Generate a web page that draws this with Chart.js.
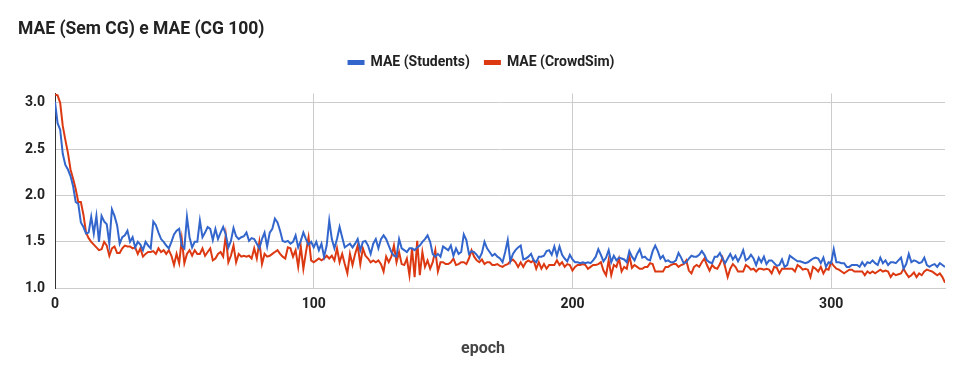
<!DOCTYPE html>
<html>
<head>
<meta charset="utf-8">
<script src="https://cdn.jsdelivr.net/npm/chart.js@4.4.1/dist/chart.umd.min.js"></script>
<style>
  body { margin: 0; background: #fff; }
  #wrap { width: 966px; height: 377px; }
</style>
</head>
<body>
<div id="wrap"><canvas id="myChart" width="966" height="377"></canvas></div>
<script>
var chartTitle = "MAE (Sem CG) e MAE (CG 100)";
var xTitle = "epoch";
var seriesNames = ["MAE (Students)", "MAE (CrowdSim)"];
var xTicks = [0, 100, 200, 300];
var yTicks = [1.0, 1.5, 2.0, 2.5, 3.0];

// MAE per epoch (0..344)
var students = [
  3.01,2.78,2.71,2.45,2.33,2.28,2.21,2.10,1.93,1.91,
  1.71,1.66,1.59,1.60,1.77,1.59,1.78,1.50,1.78,1.72,
  1.69,1.48,1.85,1.78,1.68,1.48,1.55,1.57,1.62,1.50,
  1.55,1.44,1.50,1.47,1.41,1.50,1.46,1.43,1.72,1.68,
  1.60,1.53,1.50,1.46,1.43,1.50,1.58,1.62,1.64,1.46,
  1.43,1.77,1.55,1.44,1.50,1.50,1.73,1.55,1.60,1.66,
  1.64,1.52,1.64,1.53,1.60,1.66,1.58,1.44,1.51,1.65,
  1.56,1.53,1.55,1.56,1.60,1.51,1.54,1.53,1.48,1.43,
  1.53,1.60,1.45,1.60,1.64,1.75,1.71,1.62,1.51,1.50,
  1.51,1.48,1.50,1.57,1.44,1.51,1.60,1.53,1.47,1.50,
  1.44,1.50,1.41,1.48,1.34,1.46,1.73,1.53,1.43,1.53,
  1.66,1.55,1.44,1.46,1.48,1.44,1.48,1.53,1.41,1.50,
  1.51,1.46,1.37,1.48,1.53,1.43,1.53,1.57,1.53,1.46,
  1.39,1.35,1.34,1.53,1.43,1.41,1.39,1.43,1.43,1.41,
  1.44,1.46,1.50,1.53,1.57,1.50,1.37,1.34,1.37,1.34,
  1.45,1.43,1.41,1.46,1.35,1.43,1.37,1.39,1.58,1.52,
  1.37,1.40,1.39,1.36,1.32,1.38,1.50,1.43,1.39,1.35,
  1.37,1.34,1.32,1.28,1.39,1.52,1.29,1.37,1.41,1.44,
  1.46,1.31,1.32,1.34,1.37,1.30,1.28,1.34,1.34,1.35,
  1.40,1.41,1.36,1.45,1.35,1.45,1.36,1.32,1.29,1.36,
  1.31,1.28,1.28,1.27,1.28,1.27,1.28,1.27,1.30,1.34,
  1.42,1.36,1.29,1.33,1.41,1.28,1.35,1.30,1.33,1.32,
  1.31,1.28,1.40,1.34,1.30,1.37,1.42,1.33,1.34,1.31,
  1.30,1.40,1.46,1.40,1.32,1.35,1.29,1.30,1.28,1.28,
  1.30,1.38,1.33,1.27,1.28,1.32,1.35,1.34,1.34,1.36,
  1.40,1.36,1.30,1.28,1.27,1.34,1.34,1.38,1.32,1.27,
  1.32,1.37,1.31,1.35,1.29,1.34,1.41,1.30,1.32,1.36,
  1.32,1.25,1.33,1.28,1.34,1.26,1.30,1.30,1.27,1.24,
  1.25,1.31,1.23,1.25,1.35,1.33,1.31,1.29,1.29,1.28,
  1.27,1.28,1.30,1.32,1.33,1.32,1.27,1.33,1.23,1.28,
  1.27,1.42,1.28,1.28,1.27,1.27,1.23,1.23,1.25,1.25,
  1.25,1.23,1.28,1.24,1.28,1.27,1.30,1.27,1.25,1.33,
  1.27,1.30,1.25,1.28,1.28,1.27,1.30,1.33,1.21,1.26,
  1.37,1.28,1.30,1.29,1.27,1.28,1.33,1.25,1.23,1.25,
  1.26,1.23,1.27,1.25,1.23
];

var crowdSim = [
  3.09,3.08,3.00,2.75,2.60,2.46,2.28,2.18,2.07,1.93,
  1.93,1.79,1.60,1.54,1.50,1.47,1.44,1.41,1.42,1.50,
  1.46,1.35,1.43,1.45,1.38,1.38,1.43,1.46,1.45,1.45,
  1.43,1.44,1.37,1.43,1.34,1.37,1.39,1.39,1.40,1.37,
  1.43,1.39,1.41,1.37,1.41,1.35,1.25,1.37,1.27,1.53,
  1.27,1.37,1.41,1.35,1.41,1.37,1.37,1.43,1.35,1.39,
  1.43,1.30,1.32,1.37,1.39,1.34,1.57,1.28,1.35,1.46,
  1.28,1.37,1.34,1.35,1.34,1.35,1.32,1.43,1.32,1.50,
  1.26,1.37,1.34,1.35,1.37,1.39,1.41,1.37,1.34,1.32,
  1.44,1.43,1.34,1.41,1.23,1.45,1.21,1.39,1.55,1.30,
  1.28,1.30,1.32,1.30,1.32,1.35,1.32,1.35,1.30,1.43,
  1.28,1.37,1.26,1.16,1.37,1.25,1.37,1.46,1.26,1.43,
  1.35,1.32,1.28,1.30,1.28,1.30,1.26,1.18,1.34,1.28,
  1.34,1.46,1.28,1.39,1.26,1.25,1.32,1.14,1.43,1.12,
  1.51,1.14,1.39,1.23,1.30,1.21,1.28,1.41,1.18,1.28,
  1.28,1.26,1.26,1.28,1.32,1.25,1.26,1.28,1.28,1.26,
  1.32,1.41,1.34,1.30,1.28,1.31,1.26,1.28,1.28,1.25,
  1.25,1.26,1.24,1.23,1.25,1.26,1.29,1.31,1.28,1.23,
  1.28,1.23,1.28,1.30,1.28,1.30,1.21,1.28,1.21,1.26,
  1.21,1.25,1.25,1.25,1.30,1.25,1.28,1.23,1.26,1.25,
  1.19,1.23,1.25,1.25,1.26,1.25,1.21,1.23,1.25,1.25,
  1.26,1.28,1.19,1.14,1.30,1.14,1.25,1.23,1.32,1.18,
  1.23,1.21,1.35,1.22,1.25,1.23,1.21,1.21,1.23,1.23,
  1.27,1.26,1.18,1.18,1.18,1.18,1.23,1.23,1.25,1.26,
  1.26,1.23,1.25,1.26,1.30,1.19,1.16,1.23,1.25,1.23,
  1.28,1.32,1.25,1.19,1.25,1.22,1.21,1.26,1.33,1.23,
  1.12,1.21,1.26,1.23,1.18,1.18,1.18,1.25,1.23,1.20,
  1.21,1.18,1.21,1.21,1.20,1.21,1.20,1.16,1.23,1.22,
  1.16,1.21,1.21,1.21,1.21,1.21,1.18,1.25,1.23,1.20,
  1.21,1.20,1.12,1.23,1.21,1.18,1.23,1.16,1.21,1.20,
  1.28,1.24,1.21,1.20,1.18,1.16,1.18,1.20,1.20,1.18,
  1.18,1.18,1.18,1.14,1.18,1.16,1.18,1.16,1.18,1.20,
  1.18,1.19,1.18,1.12,1.16,1.14,1.15,1.16,1.21,1.16,
  1.12,1.14,1.17,1.12,1.16,1.14,1.18,1.20,1.19,1.18,
  1.16,1.14,1.16,1.12,1.06
];

var epochs = students.map(function (v, i) { return i; });

function toPoints(values) {
  return values.map(function (v, i) {
    return { x: epochs[i], y: v };
  });
}

var blue = "#3366cc";
var red = "#dc3912";
var font = "Roboto";

// extra room under the legend + x title centred on the whole canvas
var layoutTweaks = {
  id: "layoutTweaks",
  beforeInit: function (chart) {
    var fit = chart.legend.fit;
    chart.legend.fit = function () {
      fit.bind(chart.legend)();
      this.height += 14;
    };
  },
  afterDraw: function (chart) {
    var c = chart.ctx;
    c.save();
    c.font = "bold 16px " + font;
    c.fillStyle = "#444";
    c.textAlign = "center";
    c.textBaseline = "middle";
    c.fillText(xTitle, chart.width / 2, 349);
    c.restore();
  },
};

var ctx = document.getElementById("myChart").getContext("2d");
var myChart = new Chart(ctx, {
  type: "line",
  data: {
    datasets: [
      {
        label: seriesNames[0],
        data: toPoints(students),
        borderColor: blue,
        backgroundColor: blue,
        borderWidth: 2,
        pointRadius: 0,
        tension: 0,
      },
      {
        label: seriesNames[1],
        data: toPoints(crowdSim),
        borderColor: red,
        backgroundColor: red,
        borderWidth: 2,
        pointRadius: 0,
        tension: 0,
      },
    ],
  },
  plugins: [layoutTweaks],
  options: {
    responsive: false,
    animation: false,
    layout: { padding: { left: 18, right: 21, top: 0, bottom: 56 } },
    plugins: {
      title: {
        display: true,
        text: chartTitle,
        align: "start",
        color: "#222",
        font: { family: font, size: 17.5, weight: "bold" },
        padding: { top: 19.5, bottom: 0 },
      },
      legend: {
        display: true,
        labels: {
          boxWidth: 15,
          boxHeight: 3,
          color: "#222",
          font: { family: font, size: 14, weight: "bold" },
          padding: 15,
        },
      },
      tooltip: { enabled: false },
    },
    scales: {
      x: {
        type: "linear",
        min: 0,
        max: epochs[epochs.length - 1],
        afterBuildTicks: function (scale) {
          scale.ticks = xTicks.map(function (v) { return { value: v }; });
        },
        ticks: {
          color: "#222",
          font: { family: font, size: 14, weight: "bold" },
          padding: 8,
          maxRotation: 0,
        },
        grid: { color: "#cccccc", drawTicks: false },
        border: { color: "#cccccc" },
      },
      y: {
        min: 1.0,
        max: 3.1,
        afterBuildTicks: function (scale) {
          scale.ticks = yTicks.map(function (v) { return { value: v }; });
        },
        afterFit: function (scale) {
          scale.width = 37;
        },
        ticks: {
          color: "#222",
          font: { family: font, size: 14, weight: "bold" },
          padding: 10,
          callback: function (v) { return v.toFixed(1); },
        },
        grid: { color: "#cccccc", drawTicks: false },
        border: { color: "#333" },
      },
    },
  },
});
</script>
</body>
</html>
